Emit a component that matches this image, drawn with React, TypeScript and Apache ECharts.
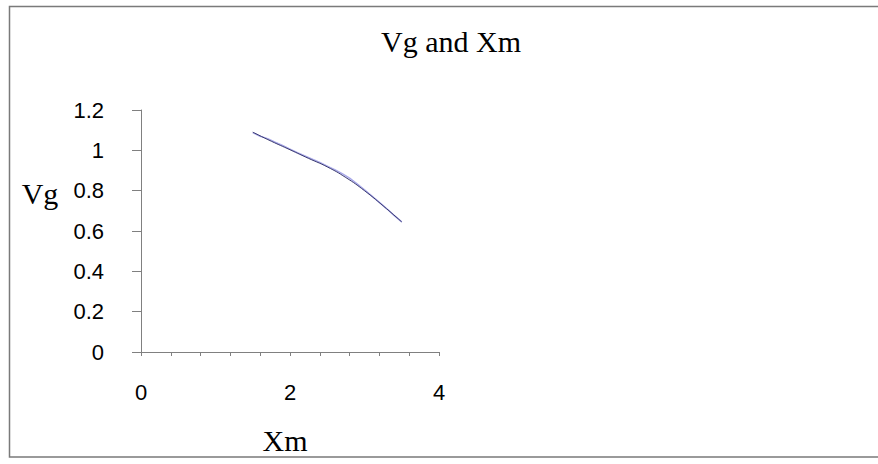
import React, { useEffect, useRef } from "react";
import * as echarts from "echarts";

const titleText = "Vg and Xm";
const xName = "Xm";
const yName = "Vg";

// measured data (light lavender)
const xmData = [1.5, 1.6, 1.7, 1.8, 1.9, 2.0, 2.1, 2.2, 2.3, 2.4, 2.5, 2.6, 2.7, 2.8, 2.9, 3.0, 3.1, 3.2, 3.3, 3.4, 3.5];
const vgData = [1.088, 1.07, 1.058, 1.04, 1.024, 1.006, 0.988, 0.972, 0.956, 0.94, 0.922, 0.904, 0.884, 0.862, 0.834, 0.804, 0.773, 0.742, 0.71, 0.676, 0.645];

// fitted trend (navy)
const xmTrend = [1.5, 1.75, 2.0, 2.25, 2.5, 2.75, 3.0, 3.25, 3.5];
const vgTrend = [1.09, 1.045, 1.003, 0.96, 0.918, 0.865, 0.8, 0.725, 0.645];

const xMin = 0;
const xMax = 4;
const xTickStep = 0.4;
const xLabelStep = 2;
const yMin = 0;
const yMax = 1.2;
const yStep = 0.2;

export default function App() {
  const ref = useRef<HTMLDivElement>(null);
  useEffect(() => {
    if (!ref.current) return;
    const chart = echarts.init(ref.current, undefined, { renderer: "svg" });
    const axisGray = "#808080";
    chart.setOption({
      animation: false,
      backgroundColor: "#ffffff",
      title: {
        text: titleText,
        left: 446,
        top: 21,
        textAlign: "center",
        textStyle: {
          fontFamily: "Liberation Serif",
          fontWeight: "normal",
          fontSize: 30,
          color: "#000",
        },
      },
      graphic: [
        {
          type: "rect",
          shape: { x: 9.5, y: 6.5, width: 900, height: 450.5 },
          style: { fill: "none", stroke: "#7a7a7a", lineWidth: 1.5 },
          silent: true,
        },
        {
          type: "text",
          x: 40,
          y: 193,
          style: {
            text: yName,
            font: "30px 'Liberation Serif'",
            fill: "#000",
            align: "center",
            verticalAlign: "middle",
          },
        },
        {
          type: "text",
          x: 285,
          y: 440,
          style: {
            text: xName,
            font: "30px 'Liberation Serif'",
            fill: "#000",
            align: "center",
            verticalAlign: "middle",
          },
        },
      ],
      grid: { left: 141, right: 439, top: 110, bottom: 112, containLabel: false },
      xAxis: {
        type: "value",
        min: xMin,
        max: xMax,
        interval: xTickStep,
        axisLine: { show: true, onZero: false, lineStyle: { color: axisGray, width: 1 } },
        axisTick: { show: true, length: 4, lineStyle: { color: axisGray } },
        splitLine: { show: false },
        axisLabel: {
          margin: 29,
          fontFamily: "Liberation Sans",
          fontSize: 22,
          color: "#000",
          showMinLabel: true,
          showMaxLabel: true,
          formatter: (v: number) => {
            const r = Math.round(v / xLabelStep) * xLabelStep;
            return Math.abs(v - r) < 1e-6 ? String(r) : "";
          },
        },
      },
      yAxis: {
        type: "value",
        min: yMin,
        max: yMax,
        interval: yStep,
        axisLine: { show: true, lineStyle: { color: axisGray, width: 1 } },
        axisTick: { show: true, length: 9, lineStyle: { color: axisGray } },
        splitLine: { show: false },
        axisLabel: {
          margin: 37,
          fontFamily: "Liberation Sans",
          fontSize: 22,
          color: "#000",
          formatter: (v: number) => String(Math.round(v * 10) / 10),
        },
      },
      series: [
        {
          type: "line",
          data: xmData.map((x, i) => [x, vgData[i]]),
          showSymbol: false,
          lineStyle: { color: "#a8a8e8", width: 1.5 },
          z: 2,
        },
        {
          type: "line",
          data: xmTrend.map((x, i) => [x, vgTrend[i]]),
          smooth: true,
          showSymbol: false,
          lineStyle: { color: "#3a3a6e", width: 1 },
          z: 3,
        },
      ],
    });
    return () => chart.dispose();
  }, []);
  return (
    <div
      ref={ref}
      style={{ position: "fixed", left: 0, top: 0, width: 878, height: 464 }}
    />
  );
}
